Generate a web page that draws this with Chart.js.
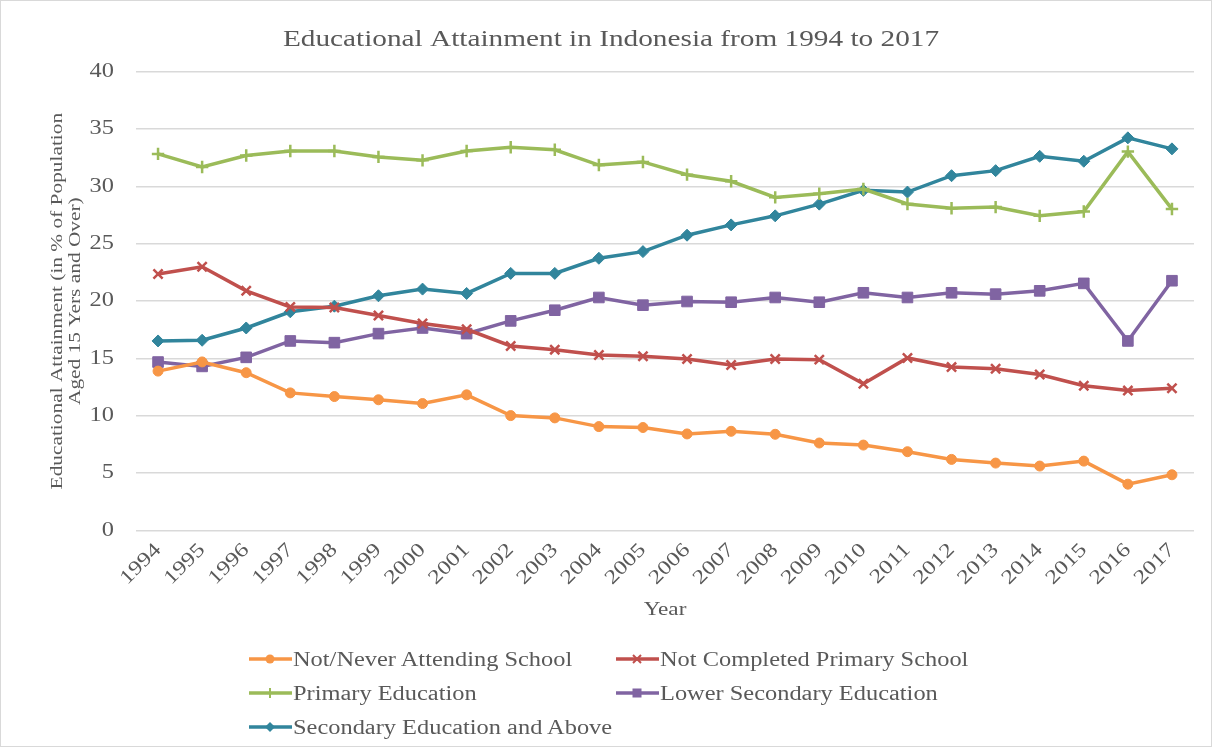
<!DOCTYPE html>
<html>
<head>
<meta charset="utf-8">
<script src="https://cdn.jsdelivr.net/npm/chart.js@4.4.1/dist/chart.umd.min.js"></script>
<style>
  html, body { margin: 0; padding: 0; background: #fff; }
  #wrap { position: relative; width: 1212px; height: 747px; box-sizing: border-box; border: 1px solid #d9d9d9; overflow: hidden; }
  #c { position: absolute; left: 0; top: 0; }
  .leg { position: absolute; font-family: "Liberation Serif", "Times New Roman", serif; font-size: 20px; color: #595959; display: flex; align-items: center; white-space: nowrap; }
  .leg span { display: inline-block; transform: scaleX(1.22); transform-origin: 0 50%; }
</style>
</head>
<body>
<div id="wrap">
  <canvas id="c" width="1212" height="747"></canvas>
  <div id="legend"></div>
</div>
<script>
const years = ["1994","1995","1996","1997","1998","1999","2000","2001","2002","2003","2004","2005","2006","2007","2008","2009","2010","2011","2012","2013","2014","2015","2016","2017"];
const notNeverAttending = [13.9,14.7,13.76,12.0,11.68,11.4,11.07,11.83,10.02,9.82,9.06,8.98,8.42,8.65,8.39,7.63,7.45,6.87,6.2,5.88,5.62,6.05,4.04,4.86];
const notCompletedPrimary = [22.36,23.0,20.9,19.5,19.45,18.75,18.05,17.55,16.09,15.77,15.3,15.2,14.95,14.43,14.95,14.9,12.8,15.05,14.25,14.1,13.6,12.62,12.2,12.41];
const primaryEducation = [32.84,31.7,32.7,33.1,33.1,32.58,32.28,33.1,33.42,33.2,31.87,32.14,31.03,30.45,29.05,29.37,29.78,28.47,28.1,28.2,27.44,27.82,33.04,28.03];
const lowerSecondary = [14.69,14.31,15.1,16.53,16.38,17.17,17.66,17.17,18.28,19.21,20.32,19.65,19.97,19.91,20.32,19.91,20.73,20.32,20.73,20.61,20.9,21.55,16.53,21.78];
const secondaryAndAbove = [16.53,16.59,17.66,19.07,19.56,20.47,21.05,20.67,22.42,22.42,23.74,24.32,25.75,26.65,27.44,28.46,29.66,29.51,30.94,31.38,32.63,32.2,34.24,33.28];
const yTicks = [0,5,10,15,20,25,30,35,40];

const seriesNames = ["Not/Never Attending School","Not Completed Primary School","Primary Education","Lower Secondary Education","Secondary Education and Above"];
const seriesColors = ["#F79646","#C0504D","#9BBB59","#8064A2","#31859C"];
const seriesStyles = ["circle","crossRot","cross","rect","rectRot"];
const seriesRadius = [5,6.5,6.2,7.5,6];
const seriesData = [notNeverAttending, notCompletedPrimary, primaryEducation, lowerSecondary, secondaryAndAbove];

const FONT = "'Liberation Serif', 'Times New Roman', serif";
const TXT = "#595959";
const TEXT_STRETCH = 1.22;

// Widen canvas text glyphs along their baseline (reference uses a wide serif rendering)
const canvas = document.getElementById('c');
const cx2d = canvas.getContext('2d');
const P = CanvasRenderingContext2D.prototype;
cx2d.fillText = function (t, x, y, maxW) {
  this.save();
  this.translate(x, y);
  this.scale(TEXT_STRETCH, 1);
  if (maxW !== undefined) P.fillText.call(this, t, 0, 0, maxW / TEXT_STRETCH);
  else P.fillText.call(this, t, 0, 0);
  this.restore();
};
cx2d.measureText = function (t) {
  const m = P.measureText.call(this, t);
  return {
    width: m.width * TEXT_STRETCH,
    actualBoundingBoxAscent: m.actualBoundingBoxAscent,
    actualBoundingBoxDescent: m.actualBoundingBoxDescent,
    actualBoundingBoxLeft: m.actualBoundingBoxLeft * TEXT_STRETCH,
    actualBoundingBoxRight: m.actualBoundingBoxRight * TEXT_STRETCH
  };
};

const datasets = seriesNames.map((n,i) => ({
  label: n,
  data: seriesData[i],
  borderColor: seriesColors[i],
  backgroundColor: seriesColors[i],
  borderWidth: 3.5,
  pointStyle: seriesStyles[i],
  pointRadius: seriesRadius[i],
  pointHoverRadius: seriesRadius[i],
  pointBorderWidth: (seriesStyles[i] === 'cross' || seriesStyles[i] === 'crossRot') ? 2.5 : 1,
  pointBorderColor: seriesColors[i],
  pointBackgroundColor: seriesColors[i],
  tension: 0,
  fill: false
}));

const PAD_LEFT = 27;
new Chart(canvas, {
  type: 'line',
  data: { labels: years, datasets },
  options: {
    responsive: false,
    animation: false,
    events: [],
    layout: { padding: { left: PAD_LEFT, right: 19, top: 0, bottom: 107 } },
    plugins: {
      legend: { display: false },
      tooltip: { enabled: false },
      title: {
        display: true,
        text: "Educational Attainment in Indonesia from 1994 to 2017",
        color: TXT,
        font: { family: FONT, size: 24, weight: 'normal' },
        padding: { top: 24, bottom: 18 }
      }
    },
    scales: {
      x: {
        type: 'category',
        offset: true,
        grid: { display: false, drawTicks: false },
        border: { display: false },
        ticks: { color: TXT, font: { family: FONT, size: 20 }, minRotation: 45, maxRotation: 45, padding: 8, autoSkip: false },
        title: { display: true, text: "Year", color: TXT, font: { family: FONT, size: 19 }, padding: { top: 0, bottom: 20 } },
        afterFit: (s) => { s.height = 110.5; }
      },
      y: {
        min: 0, max: 40,
        afterBuildTicks: (s) => { s.ticks = yTicks.map(v => ({ value: v })); },
        grid: { color: "#d9d9d9", lineWidth: 1.5, drawTicks: false },
        border: { display: false },
        ticks: { color: TXT, font: { family: FONT, size: 20 }, padding: 22 },
        title: { display: true, text: ["Educational Attainment (in % of Population", "Aged 15 Yers and Over)"], color: TXT, font: { family: FONT, size: 17.5, lineHeight: 1.05 }, padding: { top: 20, bottom: 0 } },
        afterFit: (s) => { s.width = 135 - PAD_LEFT; }
      }
    }
  }
});

// HTML legend (two columns)
const legPos = [[247,658],[614,658],[247,692],[614,692],[247,726]];
const legEl = document.getElementById('legend');
seriesNames.forEach((n,i) => {
  const d = document.createElement('div');
  d.className = 'leg';
  d.style.left = legPos[i][0] + 'px';
  d.style.top = (legPos[i][1] - 12) + 'px';
  d.style.height = '24px';
  const c = seriesColors[i];
  let mk = '';
  const cx = 22, cy = 12;
  switch (seriesStyles[i]) {
    case 'circle': mk = `<circle cx="${cx}" cy="${cy}" r="4.5" fill="${c}"/>`; break;
    case 'crossRot': mk = `<path d="M${cx-4} ${cy-4} L${cx+4} ${cy+4} M${cx+4} ${cy-4} L${cx-4} ${cy+4}" stroke="${c}" stroke-width="2"/>`; break;
    case 'cross': mk = `<path d="M${cx} ${cy-5} L${cx} ${cy+5}" stroke="${c}" stroke-width="2"/>`; break;
    case 'rect': mk = `<rect x="${cx-4.5}" y="${cy-4.5}" width="9" height="9" fill="${c}"/>`; break;
    case 'rectRot': mk = `<path d="M${cx} ${cy-5} L${cx+5} ${cy} L${cx} ${cy+5} L${cx-5} ${cy} Z" fill="${c}"/>`; break;
  }
  d.innerHTML = `<svg width="45" height="24"><line x1="1" y1="${cy}" x2="44" y2="${cy}" stroke="${c}" stroke-width="3.5"/>${mk}</svg><span>${n}</span>`;
  legEl.appendChild(d);
});
</script>
</body>
</html>
